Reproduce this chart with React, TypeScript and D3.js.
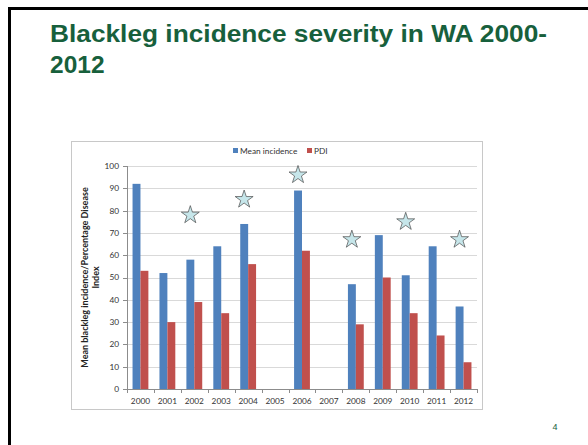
import React from 'react';
import * as d3 from 'd3';

const years = ['2000', '2001', '2002', '2003', '2004', '2005', '2006', '2007', '2008', '2009', '2010', '2011', '2012'];
const meanIncidence = [92, 52, 58, 64, 74, null, 89, null, 47, 69, 51, 64, 37];
const pdi = [53, 30, 39, 34, 56, null, 62, null, 29, 50, 34, 24, 12];
// star markers drawn above some years
const starYears = ['2002', '2004', '2006', '2008', '2010', '2012'];
const starValues = [78, 85, 96, 67, 75, 67];
const yTicks = [0, 10, 20, 30, 40, 50, 60, 70, 80, 90, 100];
const seriesNames = ['Mean incidence', 'PDI'];
const COLORS = ['#4f81bd', '#c0504d'];

const W = 588;
const H = 445;
const plot = { left: 127, right: 477, top: 166, bottom: 389 };
const chartFont = 'Lato, "Open Sans", sans-serif';
const titleFont = '"Liberation Sans", Arial, sans-serif';

const App = () => {
  const x = d3.scaleBand<string>().domain(years).range([plot.left, plot.right]).padding(0);
  const x1 = d3.scaleBand<string>().domain(seriesNames).range([0, x.bandwidth()]).paddingInner(0).paddingOuter(0.7);
  const y = d3.scaleLinear().domain([0, 100]).range([plot.bottom, plot.top]);

  const star = d3.symbol().type(d3.symbolStar).size(100)();
  const series = [meanIncidence, pdi];

  return (
    <svg width={W} height={H} style={{ position: 'absolute', left: 0, top: 0, background: '#fff' }}>
      {/* slide frame */}
      <path d={`M9.5,${H + 5}V8.5H${W + 5}`} fill="none" stroke="#000" strokeWidth={3} />

      <text x={50} y={42} fontFamily={titleFont} fontWeight="bold" fontSize={24.5} fill="#17603c"
        textLength={497} lengthAdjust="spacingAndGlyphs">
        Blackleg incidence severity in WA 2000-
      </text>
      <text x={50} y={72.5} fontFamily={titleFont} fontWeight="bold" fontSize={24.5} fill="#17603c">
        2012
      </text>
      <text x={555} y={430} fontFamily={titleFont} fontSize={9} fill="#17603c" textAnchor="middle">
        4
      </text>

      {/* chart area */}
      <rect x={71.5} y={141.5} width={411} height={268} fill="#fff" stroke="#c8c8c8" />

      {/* gridlines */}
      {yTicks.map(t => (
        <line key={t} x1={plot.left} x2={plot.right} y1={Math.round(y(t)) + 0.5} y2={Math.round(y(t)) + 0.5}
          stroke={t === 0 ? '#8c8c8c' : '#d9d9d9'} strokeWidth={1} />
      ))}
      {/* y axis */}
      <line x1={plot.left + 0.5} x2={plot.left + 0.5} y1={plot.top} y2={plot.bottom + 0.5} stroke="#8c8c8c" />
      {yTicks.map(t => (
        <g key={'yt' + t}>
          <line x1={plot.left - 4} x2={plot.left} y1={Math.round(y(t)) + 0.5} y2={Math.round(y(t)) + 0.5} stroke="#8c8c8c" />
          <text x={plot.left - 8} y={y(t)} dy="0.35em" textAnchor="end" fontFamily={chartFont} fontSize={8.3} fill="#333">
            {t}
          </text>
        </g>
      ))}
      {/* x axis ticks and labels */}
      {years.map((yr, i) => (
        <g key={'xt' + yr}>
          <line x1={Math.round(x(yr)!) + 0.5} x2={Math.round(x(yr)!) + 0.5} y1={plot.bottom} y2={plot.bottom + 4} stroke="#8c8c8c" />
          {i === years.length - 1 && (
            <line x1={plot.right + 0.5} x2={plot.right + 0.5} y1={plot.bottom} y2={plot.bottom + 4} stroke="#8c8c8c" />
          )}
          <text x={x(yr)! + x.bandwidth() / 2} y={plot.bottom + 15} textAnchor="middle" fontFamily={chartFont} fontSize={8.3} fill="#333">
            {yr}
          </text>
        </g>
      ))}

      {/* bars */}
      {series.map((vals, s) => (
        <g key={seriesNames[s]} fill={COLORS[s]}>
          {vals.map((v, i) => v == null ? null : (
            <rect key={i} x={x(years[i])! + x1(seriesNames[s])!} y={y(v)} width={x1.bandwidth()} height={y(0) - y(v)} />
          ))}
        </g>
      ))}

      {/* stars */}
      {starYears.map((yr, i) => (
        <path key={'s' + yr} d={star!} transform={`translate(${x(yr)! + x.bandwidth() / 2 - 4},${y(starValues[i])})`}
          fill="#c6e6ea" stroke="#4a4a4a" strokeWidth={0.7} />
      ))}

      {/* y axis title */}
      <g transform={`translate(88,${(plot.top + plot.bottom) / 2}) rotate(-90)`}>
        <text textAnchor="middle" fontFamily={chartFont} fontWeight="bold" fontSize={9} fill="#222">
          Mean blackleg incidence/Percentage Disease
        </text>
        <text y={11} textAnchor="middle" fontFamily={chartFont} fontWeight="bold" fontSize={9} fill="#222">
          Index
        </text>
      </g>

      {/* legend */}
      <rect x={233} y={148} width={5} height={5} fill={COLORS[0]} />
      <text x={240} y={153.5} fontFamily={chartFont} fontSize={8.3} fill="#333">{seriesNames[0]}</text>
      <rect x={307} y={148} width={5} height={5} fill={COLORS[1]} />
      <text x={314} y={153.5} fontFamily={chartFont} fontSize={8.3} fill="#333">{seriesNames[1]}</text>
    </svg>
  );
};

export default App;
